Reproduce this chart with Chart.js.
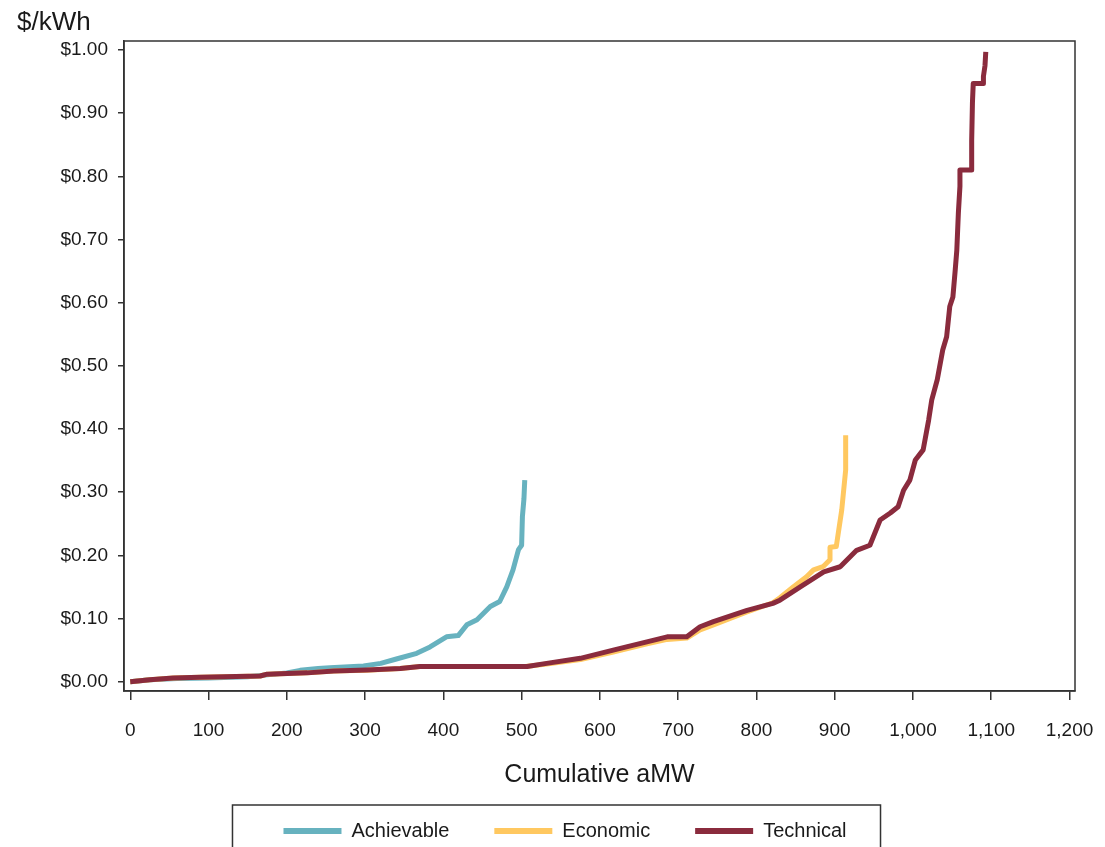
<!DOCTYPE html>
<html>
<head>
<meta charset="utf-8">
<title>Supply curves</title>
<script src="https://cdn.jsdelivr.net/npm/chart.js@4.4.1/dist/chart.umd.min.js"></script>
<style>
    html, body { margin: 0; padding: 0; background: #fff; }
    #wrap { width: 1105px; height: 847px; }
</style>
</head>
<body>
<div id="wrap"><canvas id="supplyChart" width="1105" height="847"></canvas></div>
<script>
const seriesNames = ["Achievable", "Economic", "Technical"];
const seriesColors = ["#67b2bf", "#ffc860", "#8a2b3d"];

const xTicks = [0, 100, 200, 300, 400, 500, 600, 700, 800, 900, 1000, 1100, 1200];
const yTicks = [0, 0.1, 0.2, 0.3, 0.4, 0.5, 0.6, 0.7, 0.8, 0.9, 1.0];

const achievableMW = [0, 25, 60, 100, 150, 200, 217, 240, 255, 298, 320, 340, 366, 383, 404, 419, 430, 443, 460, 472, 481, 489, 496, 500, 501, 503, 504];
const achievableCost = [0, 0.003, 0.005, 0.006, 0.008, 0.014, 0.018, 0.021, 0.022, 0.025, 0.029, 0.036, 0.045, 0.055, 0.071, 0.073, 0.090, 0.098, 0.119, 0.127, 0.150, 0.177, 0.209, 0.216, 0.261, 0.290, 0.319];

const economicMW = [0, 25, 55, 89, 166, 175, 226, 260, 302, 345, 370, 489, 505, 532, 575, 617, 660, 686, 711, 728, 745, 787, 821, 830, 847, 864, 873, 885, 894, 894, 902, 909, 914, 914];
const economicCost = [0, 0.003, 0.006, 0.007, 0.009, 0.012, 0.014, 0.017, 0.018, 0.021, 0.024, 0.024, 0.024, 0.028, 0.035, 0.047, 0.060, 0.067, 0.069, 0.082, 0.090, 0.110, 0.125, 0.133, 0.150, 0.166, 0.177, 0.182, 0.193, 0.213, 0.214, 0.272, 0.335, 0.390];

const technicalMW = [0, 25, 55, 89, 166, 175, 226, 260, 302, 345, 370, 489, 507, 532, 575, 617, 660, 686, 711, 728, 745, 788, 821, 830, 856, 886, 907, 928, 945, 958, 971, 981, 988, 996, 1003, 1013, 1020, 1024, 1031, 1038, 1043, 1047, 1051, 1054, 1056, 1058, 1060, 1060, 1075, 1075, 1076, 1077, 1090, 1090, 1092, 1093];
const technicalCost = [0, 0.003, 0.006, 0.007, 0.009, 0.012, 0.014, 0.017, 0.0185, 0.021, 0.024, 0.024, 0.024, 0.029, 0.037, 0.050, 0.063, 0.071, 0.071, 0.087, 0.095, 0.113, 0.124, 0.129, 0.150, 0.174, 0.182, 0.208, 0.216, 0.256, 0.267, 0.277, 0.303, 0.319, 0.351, 0.367, 0.414, 0.446, 0.478, 0.525, 0.546, 0.594, 0.609, 0.652, 0.683, 0.742, 0.784, 0.810, 0.810, 0.857, 0.918, 0.947, 0.947, 0.958, 0.975, 0.997];

const FONT = '"Liberation Sans", Arial, sans-serif';
const INK = "#1a1a1a";
const FRAME = "#333333";

function toPoints(xs, ys) {
    return xs.map((x, i) => ({ x: x, y: ys[i] }));
}

// frame round the plot, unit label and box round the legend
const framePlugin = {
    id: "frame",
    afterDraw(chart) {
        const { ctx, chartArea } = chart;
        ctx.save();
        ctx.strokeStyle = FRAME;
        ctx.lineWidth = 1.5;
        ctx.strokeRect(chartArea.left, chartArea.top, chartArea.right - chartArea.left, chartArea.bottom - chartArea.top);

        const hb = chart.legend.legendHitBoxes;
        if (hb && hb.length) {
            const last = hb[hb.length - 1];
            const left = hb[0].left - 51;
            const right = last.left + last.width + 34;
            const top = chart.legend.top + 29;
            ctx.strokeRect(left, top, right - left, 80);
        }

        ctx.fillStyle = INK;
        ctx.font = "26px " + FONT;
        ctx.textBaseline = "middle";
        ctx.textAlign = "left";
        ctx.fillText("$/kWh", 17, 23);
        ctx.restore();
    }
};

document.addEventListener("DOMContentLoaded", () => {
    const ctx = document.getElementById("supplyChart").getContext("2d");
    const seriesX = [achievableMW, economicMW, technicalMW];
    const seriesY = [achievableCost, economicCost, technicalCost];

    new Chart(ctx, {
        type: "line",
        data: {
            datasets: seriesNames.map((name, i) => ({
                label: name,
                data: toPoints(seriesX[i], seriesY[i]),
                borderColor: seriesColors[i],
                backgroundColor: seriesColors[i],
                borderWidth: 5,
                borderJoinStyle: "round",
                pointRadius: 0,
                tension: 0,
                fill: false,
                order: 2 - i
            }))
        },
        options: {
            responsive: false,
            animation: false,
            devicePixelRatio: 1,
            layout: { padding: { top: 41, left: 55, right: 30, bottom: -4 } },
            plugins: {
                tooltip: { enabled: false },
                legend: {
                    position: "bottom",
                    labels: {
                        font: { size: 20, family: FONT },
                        color: INK,
                        boxWidth: 58,
                        boxHeight: 6,
                        padding: 45,
                        sort: (a, b) => a.datasetIndex - b.datasetIndex,
                        generateLabels: chart => Chart.defaults.plugins.legend.labels.generateLabels(chart)
                            .map(item => ({ ...item, fillStyle: item.strokeStyle, lineWidth: 0 }))
                    }
                }
            },
            scales: {
                x: {
                    type: "linear",
                    min: -8,
                    max: 1207,
                    afterBuildTicks: scale => { scale.ticks = xTicks.map(v => ({ value: v })); },
                    afterFit: scale => {
                        scale.height = 85;
                        scale.paddingLeft = 0;
                        scale.paddingRight = 0;
                    },
                    ticks: {
                        autoSkip: false,
                        maxRotation: 0,
                        padding: 19,
                        color: INK,
                        font: { size: 19, family: FONT },
                        callback: v => v.toLocaleString("en-US")
                    },
                    grid: { drawOnChartArea: false, tickLength: 9, color: FRAME, lineWidth: 1.5 },
                    border: { color: FRAME, width: 1.5 },
                    title: {
                        display: true,
                        text: "Cumulative aMW",
                        color: INK,
                        font: { size: 25, family: FONT },
                        padding: { top: 0, bottom: -14 }
                    }
                },
                y: {
                    type: "linear",
                    min: -0.0147,
                    max: 1.0142,
                    afterBuildTicks: scale => { scale.ticks = yTicks.map(v => ({ value: v })); },
                    afterFit: scale => { scale.width = 69; },
                    ticks: {
                        padding: 10,
                        color: INK,
                        font: { size: 19, family: FONT },
                        callback: v => "$" + v.toFixed(2)
                    },
                    grid: { drawOnChartArea: false, tickLength: 6, color: FRAME, lineWidth: 1.5 },
                    border: { color: FRAME, width: 1.5 }
                }
            }
        },
        plugins: [framePlugin]
    });
});
</script>
</body>
</html>
